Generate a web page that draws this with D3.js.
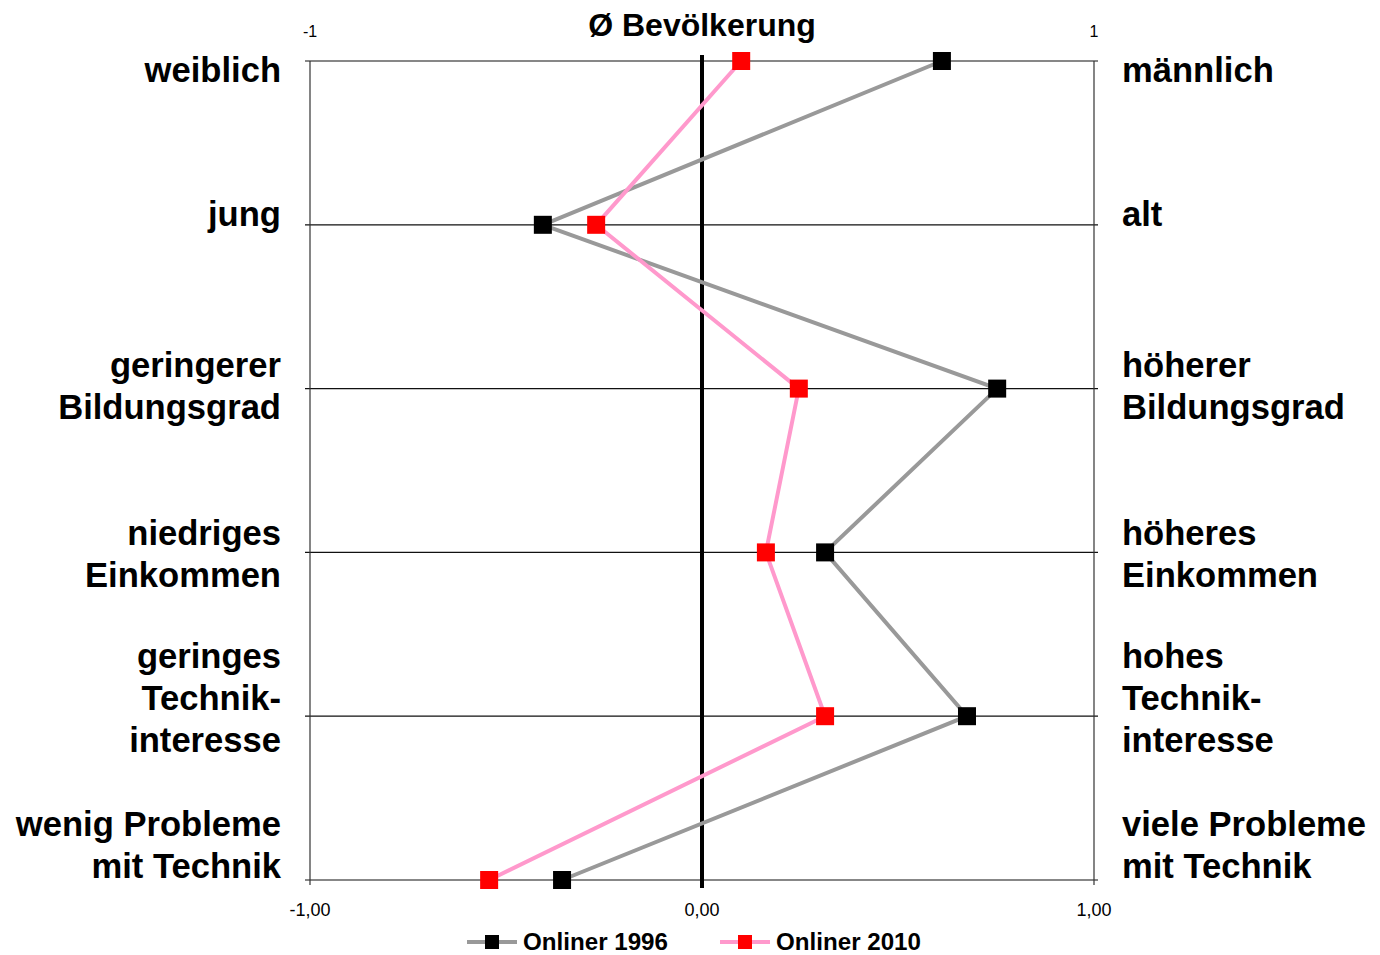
<!DOCTYPE html>
<html><head><meta charset="utf-8">
<script src="https://cdn.jsdelivr.net/npm/d3@7"></script>
<style>body{margin:0;background:#fff}svg{display:block}text{font-family:"Liberation Sans",Arial,sans-serif}</style>
</head><body><svg id="c" width="1380" height="955"></svg>
<script>
const leftLabels = [["weiblich"],["jung"],["geringerer","Bildungsgrad"],["niedriges","Einkommen"],["geringes","Technik-","interesse"],["wenig Probleme","mit Technik"]];
const rightLabels = [["männlich"],["alt"],["höherer","Bildungsgrad"],["höheres","Einkommen"],["hohes","Technik-","interesse"],["viele Probleme","mit Technik"]];
const labelBaselines = [82, 226, 377, 545, 668, 836];
const onliner1996 = [0.612, -0.406, 0.753, 0.314, 0.676, -0.357];
const onliner2010 = [0.10, -0.27, 0.247, 0.163, 0.314, -0.543];
const bottomTicks = [-1, 0, 1];
const topTicks = [-1, 1];
const seriesNames = ["Onliner 1996", "Onliner 2010"];

const svg = d3.select("#c");
const x = d3.scaleLinear().domain([-1, 1]).range([310, 1094]);
const y = d3.scalePoint().domain(d3.range(6)).range([61, 880]);
const fmt = d => d3.format(".2f")(d).replace("−", "-").replace(".", ",");

// gridlines
svg.append("g").selectAll("line").data(d3.range(6)).join("line")
  .attr("x1", 305).attr("x2", 1098).attr("y1", d => y(d)).attr("y2", d => y(d))
  .attr("stroke", "#111").attr("stroke-width", 1.2);
// left & right axis lines
[-1, 1].forEach(v => svg.append("line").attr("x1", x(v)).attr("x2", x(v)).attr("y1", y(0)).attr("y2", y(5) + 5)
  .attr("stroke", "#333").attr("stroke-width", 1.2));
// zero line
svg.append("line").attr("x1", x(0)).attr("x2", x(0)).attr("y1", 55).attr("y2", 888)
  .attr("stroke", "#000").attr("stroke-width", 4);

// bottom tick labels
svg.append("g").selectAll("text").data(bottomTicks).join("text")
  .attr("x", d => x(d)).attr("y", 916).attr("text-anchor", "middle")
  .attr("font-size", 18).text(fmt);
// top tick labels
svg.append("g").selectAll("text").data(topTicks).join("text")
  .attr("x", d => x(d)).attr("y", 37).attr("text-anchor", "middle")
  .attr("font-size", 16).text(d => String(d));

// title
svg.append("text").attr("x", x(0)).attr("y", 36).attr("text-anchor", "middle")
  .attr("font-size", 32).attr("font-weight", "bold").text("Ø Bevölkerung");

// side labels
function sideLabels(labels, xPos, anchor) {
  const g = svg.append("g");
  labels.forEach((lines, i) => {
    const t = g.append("text").attr("text-anchor", anchor).attr("font-size", 34.6).attr("font-weight", "bold");
    lines.forEach((l, j) => t.append("tspan").attr("x", xPos).attr("y", labelBaselines[i] + j * 42).text(l));
  });
}
sideLabels(leftLabels, 281, "end");
sideLabels(rightLabels, 1122, "start");

// series
const series = [
  {name: seriesNames[0], vals: onliner1996, line: "#999999", fill: "#000000"},
  {name: seriesNames[1], vals: onliner2010, line: "#ff99cc", fill: "#ff0000"}
];
const lineGen = d3.line().x(d => x(d[0])).y(d => y(d[1]));
series.forEach(s => {
  svg.append("path").datum(s.vals.map((v, i) => [v, i])).attr("d", lineGen)
    .attr("fill", "none").attr("stroke", s.line).attr("stroke-width", 4);
});
series.forEach(s => {
  svg.append("g").selectAll("rect").data(s.vals).join("rect")
    .attr("x", d => x(d) - 9).attr("y", (d, i) => y(i) - 9).attr("width", 18).attr("height", 18)
    .attr("fill", s.fill);
});

// legend
const legX = [467, 720];
series.forEach((s, i) => {
  const g = svg.append("g").attr("transform", `translate(${legX[i]},942)`);
  g.append("line").attr("x1", 0).attr("x2", 50).attr("stroke", s.line).attr("stroke-width", 4);
  g.append("rect").attr("x", 18).attr("y", -7).attr("width", 14).attr("height", 14).attr("fill", s.fill);
  g.append("text").attr("x", 56).attr("y", 8).attr("font-size", 23).attr("font-weight", "bold")
    .attr("textLength", 145).attr("lengthAdjust", "spacingAndGlyphs").text(s.name);
});
</script></body></html>
